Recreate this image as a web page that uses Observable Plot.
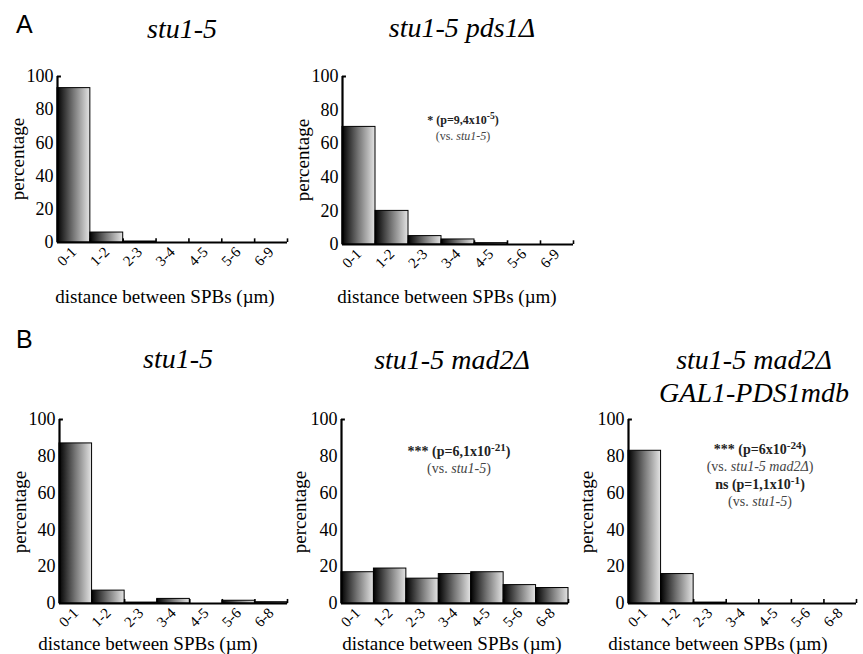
<!DOCTYPE html>
<html><head><meta charset="utf-8">
<script src="https://cdn.jsdelivr.net/npm/d3@7"></script>
<script src="https://cdn.jsdelivr.net/npm/@observablehq/plot@0.6"></script>
<style>
body{margin:0;background:#fff;}
#fig{position:relative;width:863px;height:654px;overflow:hidden;font-family:"Liberation Serif","Times New Roman",serif;color:#000;background:#fff;}
#fig svg{position:absolute;overflow:visible;}
.t{position:absolute;white-space:nowrap;line-height:1;}
.c{transform:translateX(-50%);}
.title{font-style:italic;}
.letter{font-family:"Liberation Sans",Arial,sans-serif;}
.ylab{transform:translate(-50%,-50%) rotate(-90deg);}
.ann1{font-weight:bold;color:#222;}
.ann2{color:#444;}
sup{font-size:0.8em;position:relative;top:-0.5em;vertical-align:baseline;}
</style></head><body><div id="fig"></div>
<script>
// ---- data ----
const catsA = ["0-1","1-2","2-3","3-4","4-5","5-6","6-9"];
const catsB = ["0-1","1-2","2-3","3-4","4-5","5-6","6-8"];
const pctA_stu15 = [93, 6, 0.6, 0, 0, 0, 0];
const pctA_pds1 = [70, 20, 5, 3, 0.8, 0, 0];
const pctB_stu15 = [87, 7, 0.5, 2.5, 0, 1.5, 0.7];
const pctB_mad2 = [17, 19, 13.5, 16, 17, 10, 8.4];
const pctB_gal1 = [83, 16, 0.5, 0, 0, 0, 0];
const yTicks = [0, 20, 40, 60, 80, 100];
const panelLetters = ["A", "B"];
const titles = [["stu1-5"], ["stu1-5 pds1Δ"], ["stu1-5"], ["stu1-5 mad2Δ"], ["stu1-5 mad2Δ", "GAL1-PDS1mdb"]];
const yLabel = "percentage";
const xLabel = "distance between SPBs (µm)";
const annA_pds1 = [["ann1", "* (p=9,4x10<sup>-5</sup>)"], ["ann2", "(vs. <i>stu1-5</i>)"]];
const annB_mad2 = [["ann1", "*** (p=6,1x10<sup>-21</sup>)"], ["ann2", "(vs. <i>stu1-5</i>)"]];
const annB_gal1 = [["ann1", "*** (p=6x10<sup>-24</sup>)"], ["ann2", "(vs. <i>stu1-5 mad2Δ</i>)"],
                   ["ann1", "ns (p=1,1x10<sup>-1</sup>)"], ["ann2", "(vs. <i>stu1-5</i>)"]];

// ---- layout ----
const layout = [
  {cats: catsA, values: pctA_stu15, title: titles[0], left: 0, top: 0, w: 290, h: 320, mL: 57, mR: 3, mT: 76, mB: 78,
   tx: 182, tb: [39], yl: [17, 159], xl: [165, 303], ann: null},
  {cats: catsA, values: pctA_pds1, title: titles[1], left: 290, top: 0, w: 290, h: 320, mL: 52, mR: 7, mT: 76, mB: 76,
   tx: 462, tb: [38], yl: [302, 160], xl: [447, 303], ann: annA_pds1, ax: 463, ab: [124, 140], afs: 12},
  {cats: catsB, values: pctB_stu15, title: titles[2], left: 0, top: 320, w: 290, h: 334, mL: 59, mR: 3, mT: 99, mB: 51,
   tx: 178, tb: [369], yl: [19, 512], xl: [148, 650], ann: null},
  {cats: catsB, values: pctB_mad2, title: titles[3], left: 290, top: 320, w: 290, h: 334, mL: 51, mR: 12, mT: 99, mB: 51,
   tx: 452, tb: [370], yl: [299, 512], xl: [452, 650], ann: annB_mad2, ax: 459, ab: [457, 474], afs: 14},
  {cats: catsB, values: pctB_gal1, title: titles[4], left: 570, top: 320, w: 293, h: 334, mL: 58, mR: 7, mT: 99, mB: 51,
   tx: 754, tb: [370, 403], yl: [586, 512], xl: [718, 650], ann: annB_gal1, ax: 760, ab: [455, 472, 490, 507], afs: 14}
];
const letterPos = [[16, 33], [16, 348]];

const fig = document.getElementById("fig");
function addText(cls, html, x, baseline, fs, centered) {
  const d = document.createElement("div");
  d.className = "t " + cls + (centered ? " c" : "");
  d.innerHTML = html;
  d.style.fontSize = fs + "px";
  d.style.left = x + "px";
  d.style.top = (baseline - 0.84 * fs) + "px";
  fig.appendChild(d);
  return d;
}

const serif = '"Liberation Serif", "Times New Roman", serif';
layout.forEach((p, i) => {
  const n = p.cats.length;
  const data = p.values.map((v, k) => ({k, cat: p.cats[k], v}));
  const gid = "barGrad" + i;
  const svg = Plot.plot({
    width: p.w, height: p.h,
    marginLeft: p.mL, marginRight: p.mR, marginTop: p.mT, marginBottom: p.mB,
    x: {domain: [0, n], label: null},
    y: {domain: [0, 100], label: null},
    style: {fontFamily: serif, background: "transparent", color: "#000", overflow: "visible"},
    marks: [
      Plot.rectY(data, {x1: "k", x2: d => d.k + 1, y1: 0, y2: "v", fill: `url(#${gid})`, stroke: "#000", strokeWidth: 1}),
      Plot.ruleY([0], {strokeWidth: 2.2}),
      Plot.ruleX([0], {y1: 0, y2: 100, strokeWidth: 2.2}),
      Plot.ruleY([100], {x1: 0, x2: 0.12, strokeWidth: 2}),
      Plot.ruleX(d3.range(1, n + 1), {y1: 0, y2: 2.2, strokeWidth: 1.6}),
      Plot.axisY({ticks: yTicks, tickSize: 0, tickPadding: 4, fontSize: 18, fontFamily: serif, label: null}),
      Plot.axisX({ticks: data.map(d => d.k + 0.5), tickFormat: t => p.cats[Math.floor(t)], tickRotate: -45,
                  tickSize: 0, tickPadding: 7, fontSize: 15, fontFamily: serif, label: null})
    ]
  });
  const defs = document.createElementNS("http://www.w3.org/2000/svg", "defs");
  defs.innerHTML = `<linearGradient id="${gid}" x1="0" x2="1" y1="0" y2="0">
    <stop offset="0" stop-color="#000"/><stop offset="0.5" stop-color="#767676"/><stop offset="1" stop-color="#e4e4e4"/></linearGradient>`;
  svg.insertBefore(defs, svg.firstChild);
  svg.style.left = p.left + "px";
  svg.style.top = p.top + "px";
  fig.appendChild(svg);

  p.title.forEach((line, j) => addText("title", line, p.tx, p.tb[j], 28, true));
  const yl = addText("ylab", yLabel, p.yl[0], 0, 19, false);
  yl.style.top = p.yl[1] + "px";
  addText("xlab", xLabel, p.xl[0], p.xl[1], 19, true);
  if (p.ann) p.ann.forEach(([cls, html], j) => addText(cls, html, p.ax, p.ab[j], p.afs, true));
});
panelLetters.forEach((L, i) => addText("letter", L, letterPos[i][0], letterPos[i][1], 25, false));
</script>
</body></html>
